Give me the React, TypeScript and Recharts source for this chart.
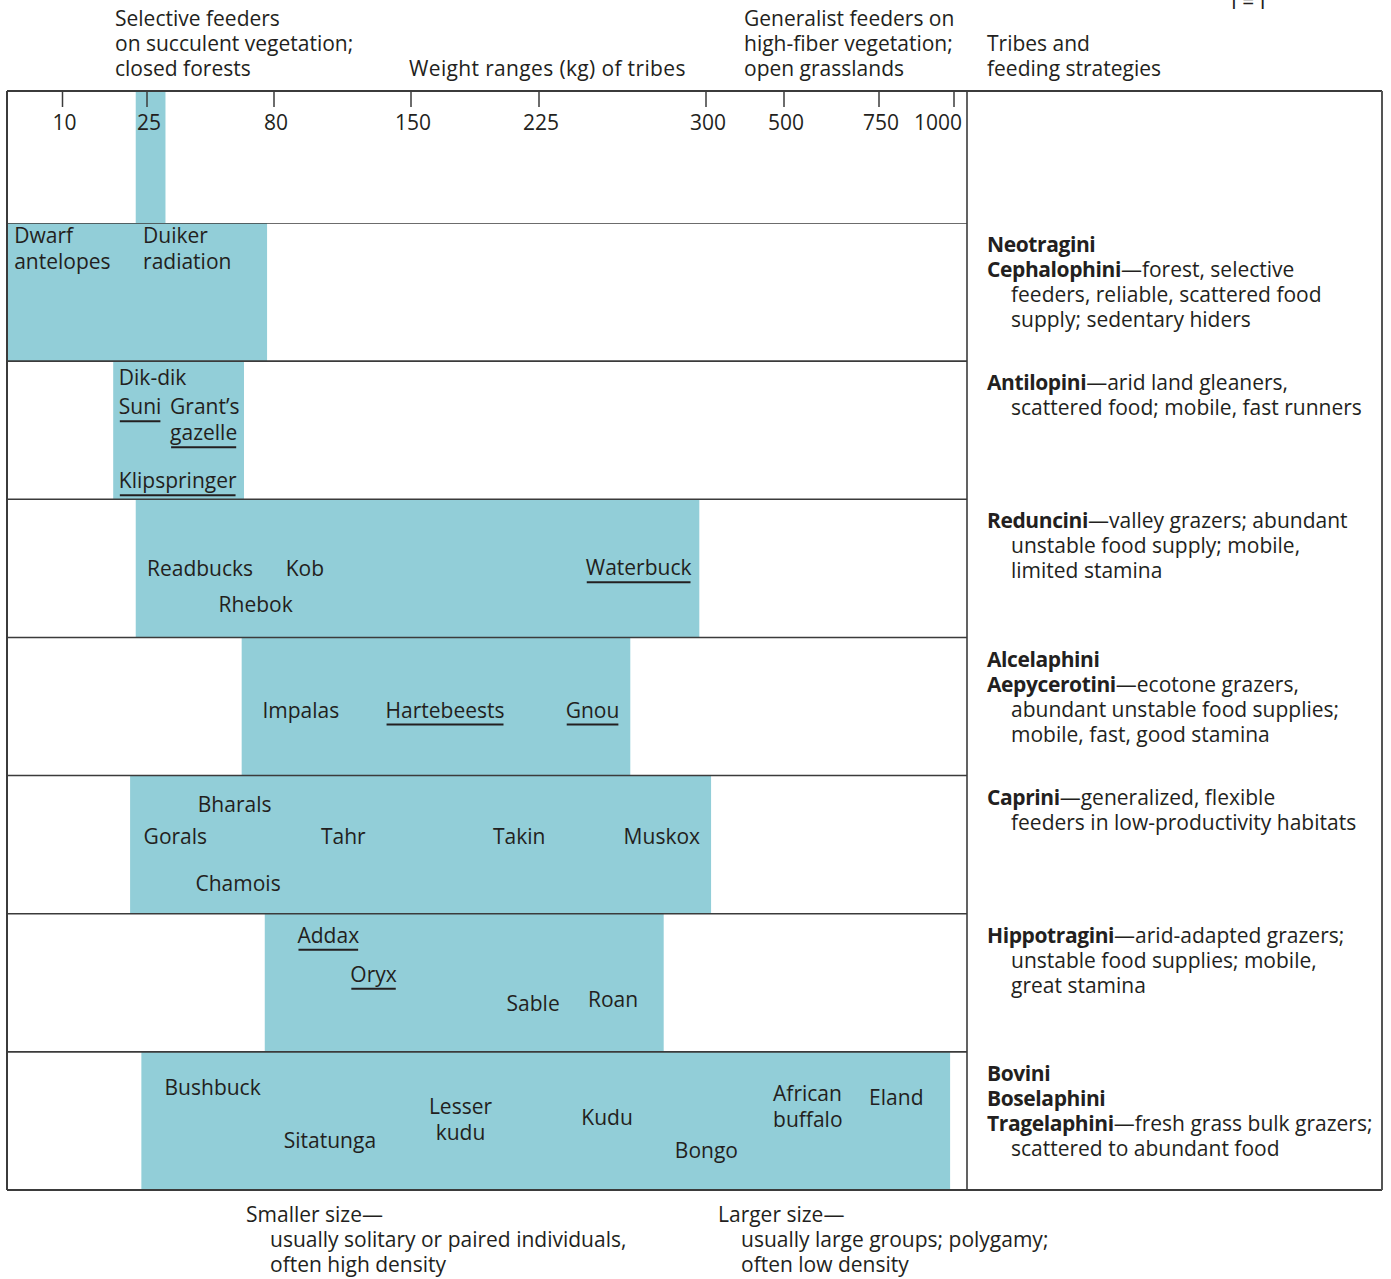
import { BarChart, Bar, XAxis, YAxis, ReferenceDot } from "recharts";

const FONT = "'Open Sans', 'Noto Sans', sans-serif";
const INK = "#231f20";
const TEAL = "#92ced8";
const RULE = "#3b3b3b";
const FS = 21;

// The printed weight axis is hand-spaced, not linear: kg -> axis units (0..960)
const scaleKg = [0, 10, 25, 80, 150, 225, 300, 500, 750, 1000];
const scaleUnits = [0, 55.5, 140, 267, 404, 532, 699, 777, 872, 947];

const tickKg = [10, 25, 80, 150, 225, 300, 500, 750, 1000];

const tribes = ["Neotragini", "Antilopini", "Reduncini", "Alcelaphini", "Caprini", "Hippotragini", "Bovini"];
// weight range (kg) of each tribe
const tribeRanges: [number, number][] = [
  [0, 77],
  [19, 67],
  [23, 297],
  [66, 266],
  [22, 313],
  [76, 281],
  [24, 987],
];
// small strip in the axis band
const headerRange: [number, number] = [23, 33];

type Note = { b?: string; t?: string; i?: boolean };
const tribeNotes: Record<string, Note[]> = {
  Neotragini: [
    { b: "Neotragini" },
    { b: "Cephalophini", t: "—forest, selective" },
    { t: "feeders, reliable, scattered food", i: true },
    { t: "supply; sedentary hiders", i: true },
  ],
  Antilopini: [
    { b: "Antilopini", t: "—arid land gleaners," },
    { t: "scattered food; mobile, fast runners", i: true },
  ],
  Reduncini: [
    { b: "Reduncini", t: "—valley grazers; abundant" },
    { t: "unstable food supply; mobile,", i: true },
    { t: "limited stamina", i: true },
  ],
  Alcelaphini: [
    { b: "Alcelaphini" },
    { b: "Aepycerotini", t: "—ecotone grazers," },
    { t: "abundant unstable food supplies;", i: true },
    { t: "mobile, fast, good stamina", i: true },
  ],
  Caprini: [
    { b: "Caprini", t: "—generalized, flexible" },
    { t: "feeders in low-productivity habitats", i: true },
  ],
  Hippotragini: [
    { b: "Hippotragini", t: "—arid-adapted grazers;" },
    { t: "unstable food supplies; mobile,", i: true },
    { t: "great stamina", i: true },
  ],
  Bovini: [
    { b: "Bovini" },
    { b: "Boselaphini" },
    { b: "Tragelaphini", t: "—fresh grass bulk grazers;" },
    { t: "scattered to abundant food", i: true },
  ],
};

// species names placed at their approximate weight (kg)
const species = [
  { name: "Dwarf\nantelopes", tribe: "Neotragini", kg: 1.3 },
  { name: "Duiker\nradiation", tribe: "Neotragini", kg: 24.3 },
  { name: "Dik-dik", tribe: "Antilopini", kg: 20 },
  { name: "Suni", tribe: "Antilopini", kg: 20 },
  { name: "Grant’s\ngazelle", tribe: "Antilopini", kg: 35 },
  { name: "Klipspringer", tribe: "Antilopini", kg: 20 },
  { name: "Readbucks", tribe: "Reduncini", kg: 25 },
  { name: "Kob", tribe: "Reduncini", kg: 86 },
  { name: "Rhebok", tribe: "Reduncini", kg: 56 },
  { name: "Waterbuck", tribe: "Reduncini", kg: 246 },
  { name: "Impalas", tribe: "Alcelaphini", kg: 75 },
  { name: "Hartebeests", tribe: "Alcelaphini", kg: 137 },
  { name: "Gnou", tribe: "Alcelaphini", kg: 237 },
  { name: "Bharals", tribe: "Caprini", kg: 47 },
  { name: "Gorals", tribe: "Caprini", kg: 24.4 },
  { name: "Tahr", tribe: "Caprini", kg: 104 },
  { name: "Takin", tribe: "Caprini", kg: 198 },
  { name: "Muskox", tribe: "Caprini", kg: 263 },
  { name: "Chamois", tribe: "Caprini", kg: 46 },
  { name: "Addax", tribe: "Hippotragini", kg: 92 },
  { name: "Oryx", tribe: "Hippotragini", kg: 119 },
  { name: "Sable", tribe: "Hippotragini", kg: 206 },
  { name: "Roan", tribe: "Hippotragini", kg: 247 },
  { name: "Bushbuck", tribe: "Bovini", kg: 32.6 },
  { name: "Sitatunga", tribe: "Bovini", kg: 85 },
  { name: "Lesser\nkudu", tribe: "Bovini", kg: 179 },
  { name: "Kudu", tribe: "Bovini", kg: 244 },
  { name: "Bongo", tribe: "Bovini", kg: 286 },
  { name: "African\nbuffalo", tribe: "Bovini", kg: 472 },
  { name: "Eland", tribe: "Bovini", kg: 724 },
];

const underlined = ["Suni", "gazelle", "Klipspringer", "Waterbuck", "Hartebeests", "Gnou", "Addax", "Oryx"];
const centred = ["Lesser\nkudu"];

// baseline offset of each name from its row centre
const labelDy: Record<string, number> = {
  "Dwarf\nantelopes": -49, "Duiker\nradiation": -49,
  "Dik-dik": -45, Suni: -16, "Grant’s\ngazelle": -16, Klipspringer: 58,
  Readbucks: 8, Kob: 8, Rhebok: 44, Waterbuck: 7,
  Impalas: 11, Hartebeests: 11, Gnou: 11,
  Bharals: -33, Gorals: -1, Tahr: -1, Takin: -1, Muskox: -1, Chamois: 46,
  Addax: -40, Oryx: -1, Sable: 28, Roan: 24,
  Bushbuck: -26, Sitatunga: 27, "Lesser\nkudu": -7, Kudu: 4, Bongo: 37, "African\nbuffalo": -20, Eland: -16,
};

function toAxis(kg: number) {
  for (let i = 1; i < scaleKg.length; i++) {
    if (kg <= scaleKg[i]) {
      const t = (kg - scaleKg[i - 1]) / (scaleKg[i] - scaleKg[i - 1]);
      return scaleUnits[i - 1] + t * (scaleUnits[i] - scaleUnits[i - 1]);
    }
  }
  return scaleUnits[scaleUnits.length - 1];
}

let measureCtx: CanvasRenderingContext2D | null = null;
function textWidth(s: string) {
  if (!measureCtx) {
    measureCtx = document.createElement("canvas").getContext("2d");
  }
  if (!measureCtx) return s.length * 10;
  measureCtx.font = `${FS}px 'Open Sans'`;
  return measureCtx.measureText(s).width;
}

const rows = tribes.map((tribe, i) => ({
  tribe,
  range: [toAxis(tribeRanges[i][0]), toAxis(tribeRanges[i][1])],
}));
const headerRows = [{ tribe: "", range: [toAxis(headerRange[0]), toAxis(headerRange[1])] }];

function WeightTick(props: any) {
  const { x, index } = props;
  const last = index === tickKg.length - 1;
  return (
    <text x={last ? x + 8 : x + 2} y={39} textAnchor={last ? "end" : "middle"} fontSize={FS} fill={INK} fontFamily={FONT}>
      {tickKg[index]}
    </text>
  );
}

function NoteTick(props: any) {
  const { x, y, payload } = props;
  const lines = tribeNotes[payload.value] || [];
  return (
    <g>
      {lines.map((ln, i) => (
        <text key={i} x={x + (ln.i ? 24 : 0)} y={y - 40 + i * 25} fontSize={FS} fill={INK} fontFamily={FONT}>
          {ln.b && (
            <tspan fontWeight={700} letterSpacing={-0.4}>
              {ln.b}
            </tspan>
          )}
          {ln.t && <tspan letterSpacing={0}>{ln.t}</tspan>}
        </text>
      ))}
    </g>
  );
}

function RowBar(props: any) {
  const { x, y, width, height, background } = props;
  const bg = background && background.width ? background : { x: 7, y, width: 960, height };
  return (
    <g>
      <rect x={x} y={y} width={width} height={height} fill={TEAL} />
      <line x1={bg.x} x2={bg.x + bg.width + 370} y1={bg.y} y2={bg.y} stroke={RULE} strokeWidth={1.6} />
    </g>
  );
}

function speciesLabel(name: string) {
  return (p: any) => {
    const vb = p.viewBox || {};
    const cx = (vb.x || 0) + (vb.width || 0) / 2;
    const cy = (vb.y || 0) + (vb.height || 0) / 2 + (labelDy[name] || 0);
    const anchor = centred.includes(name) ? "middle" : "start";
    return (
      <g>
        {name.split("\n").map((ln, i) => {
          const by = cy + i * 26;
          const w = textWidth(ln);
          const x0 = anchor === "middle" ? cx - w / 2 : cx;
          return (
            <g key={i}>
              <text x={cx} y={by} textAnchor={anchor} fontSize={FS} fill={INK} fontFamily={FONT}>
                {ln}
              </text>
              {underlined.includes(ln) && (
                <line x1={x0 + 1} x2={x0 + w - 1} y1={by + 7} y2={by + 7} stroke={INK} strokeWidth={2} />
              )}
            </g>
          );
        })}
      </g>
    );
  };
}

const txt = { fontSize: FS, fill: INK, fontFamily: FONT } as const;

export default function App() {
  return (
    <div style={{ position: "absolute", left: 0, top: 0, width: 1391, height: 1279, background: "#fff", overflow: "hidden" }}>
      <svg width={1391} height={1279} style={{ position: "absolute", left: 0, top: 0 }}>
        <text x={1231} y={9} {...txt}>I = I</text>
        <text {...txt}>
          <tspan x={115} y={26}>Selective feeders</tspan>
          <tspan x={115} y={51}>on succulent vegetation;</tspan>
          <tspan x={115} y={76}>closed forests</tspan>
        </text>
        <text x={409} y={76} {...txt} letterSpacing={0.35}>Weight ranges (kg) of tribes</text>
        <text {...txt}>
          <tspan x={744} y={26}>Generalist feeders on</tspan>
          <tspan x={744} y={51}>high-fiber vegetation;</tspan>
          <tspan x={744} y={76}>open grasslands</tspan>
        </text>
        <text {...txt}>
          <tspan x={987} y={51}>Tribes and</tspan>
          <tspan x={987} y={76}>feeding strategies</tspan>
        </text>
        <text {...txt}>
          <tspan x={246} y={1222}>Smaller size—</tspan>
          <tspan x={270} y={1247}>usually solitary or paired individuals,</tspan>
          <tspan x={270} y={1272}>often high density</tspan>
        </text>
        <text {...txt}>
          <tspan x={718} y={1222}>Larger size—</tspan>
          <tspan x={741} y={1247}>usually large groups; polygamy;</tspan>
          <tspan x={741} y={1272}>often low density</tspan>
        </text>
      </svg>

      <div style={{ position: "absolute", left: 0, top: 91 }}>
        <BarChart
          width={1391}
          height={132}
          data={headerRows}
          layout="vertical"
          barCategoryGap={0}
          margin={{ top: 0, right: 424, bottom: 0, left: 7 }}
        >
          <XAxis
            type="number"
            orientation="top"
            mirror
            height={50}
            domain={[0, 960]}
            allowDataOverflow
            ticks={tickKg.map(toAxis)}
            interval={0}
            tickSize={16}
            tickMargin={8}
            axisLine={false}
            tickLine={{ stroke: RULE, strokeWidth: 1.5 }}
            tick={<WeightTick />}
          />
          <YAxis type="category" dataKey="tribe" hide />
          <Bar dataKey="range" fill={TEAL} isAnimationActive={false} />
        </BarChart>
      </div>

      <div style={{ position: "absolute", left: 0, top: 223 }}>
        <BarChart
          width={1391}
          height={967}
          data={rows}
          layout="vertical"
          barCategoryGap={0}
          margin={{ top: 0, right: 9, bottom: 0, left: 7 }}
        >
          <XAxis type="number" domain={[0, 960]} allowDataOverflow hide />
          <YAxis
            type="category"
            dataKey="tribe"
            orientation="right"
            width={415}
            axisLine={false}
            tickLine={false}
            tickSize={0}
            tickMargin={20}
            interval={0}
            tick={<NoteTick />}
          />
          <Bar dataKey="range" fill={TEAL} shape={<RowBar />} isAnimationActive={false} />
          {species.map((s) => (
            <ReferenceDot
              key={s.name}
              x={toAxis(s.kg)}
              y={s.tribe}
              r={0}
              fill="none"
              stroke="none"
              ifOverflow="visible"
              label={speciesLabel(s.name)}
            />
          ))}
        </BarChart>
      </div>

      <svg width={1391} height={1279} style={{ position: "absolute", left: 0, top: 0, pointerEvents: "none" }}>
        <line x1={7} x2={1382} y1={91} y2={91} stroke={RULE} strokeWidth={2} />
        <line x1={7} x2={1382} y1={1190} y2={1190} stroke={RULE} strokeWidth={2} />
        <line x1={7} x2={7} y1={91} y2={1190} stroke={RULE} strokeWidth={2} />
        <line x1={1382} x2={1382} y1={91} y2={1190} stroke="#555" strokeWidth={2} />
        <line x1={967} x2={967} y1={91} y2={1190} stroke={RULE} strokeWidth={1.6} />
      </svg>
    </div>
  );
}
